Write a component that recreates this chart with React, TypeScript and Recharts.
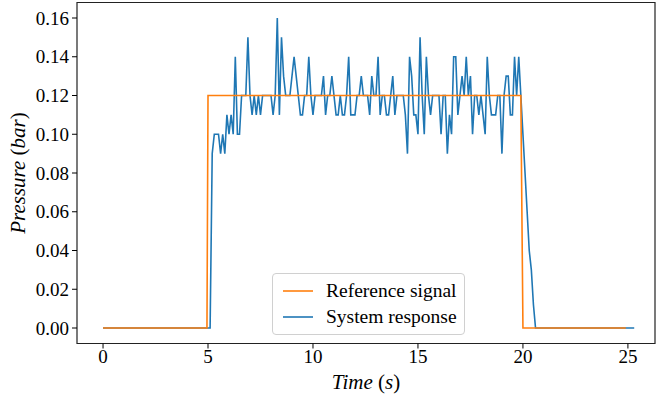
import { LineChart, Line, XAxis, YAxis, Legend, ReferenceArea } from 'recharts';

// reference (setpoint) signal, step up at 5 s and down at 20 s
const refTime = [0, 4.95, 5.0, 19.9, 20.0, 24.9];
const refValue = [0, 0, 0.12, 0.12, 0, 0];

// measured response, sampled every 0.1 s starting at 5.0 s
const sysStart = 5.0;
const sysStep = 0.1;
const sysValues = [
  0, 0, 0.09, 0.1, 0.1, 0.1, 0.09, 0.1, 0.09, 0.11,
  0.1, 0.11, 0.1, 0.14, 0.1, 0.1, 0.12, 0.12, 0.12, 0.15,
  0.12, 0.11, 0.12, 0.11, 0.12, 0.11, 0.12, 0.12, 0.12, 0.12,
  0.12, 0.11, 0.12, 0.16, 0.11, 0.15, 0.13, 0.12, 0.12, 0.12,
  0.13, 0.14, 0.13, 0.12, 0.11, 0.11, 0.12, 0.12, 0.14, 0.12,
  0.11, 0.12, 0.12, 0.12, 0.12, 0.13, 0.11, 0.12, 0.12, 0.13,
  0.12, 0.11, 0.11, 0.12, 0.11, 0.11, 0.12, 0.14, 0.11, 0.11,
  0.11, 0.12, 0.12, 0.13, 0.12, 0.12, 0.12, 0.11, 0.13, 0.12,
  0.12, 0.14, 0.11, 0.12, 0.12, 0.11, 0.11, 0.12, 0.13, 0.11,
  0.12, 0.12, 0.12, 0.12, 0.11, 0.09, 0.14, 0.13, 0.11, 0.11,
  0.1, 0.15, 0.12, 0.1, 0.14, 0.12, 0.11, 0.12, 0.12, 0.12,
  0.12, 0.1, 0.12, 0.12, 0.09, 0.11, 0.1, 0.14, 0.14, 0.11,
  0.12, 0.13, 0.12, 0.14, 0.12, 0.13, 0.1, 0.12, 0.12, 0.11,
  0.12, 0.11, 0.1, 0.14, 0.12, 0.11, 0.11, 0.11, 0.12, 0.12,
  0.09, 0.12, 0.13, 0.13, 0.11, 0.11, 0.14, 0.12, 0.14, 0.12,
  0.1, 0.08, 0.06, 0.04, 0.03, 0.012, 0,
];
const sysEnd = 25.3;

const xTicks = [0, 5, 10, 15, 20, 25];
const yTicks = [0, 0.02, 0.04, 0.06, 0.08, 0.1, 0.12, 0.14, 0.16];

const X_DOMAIN: [number, number] = [-1.24, 26.29];
const Y_DOMAIN: [number, number] = [-0.008, 0.168];

const FONT = "'Liberation Serif', 'Times New Roman', serif";
const BLUE = '#1f77b4';
const ORANGE = '#ff7f0e';

const refData = refTime.map((t, i) => ({ t, v: refValue[i] }));
const sysData = [
  { t: 0, v: 0 },
  ...sysValues.map((v, i) => ({ t: +(sysStart + i * sysStep).toFixed(2), v })),
  { t: sysEnd, v: 0 },
];

function LegendBox() {
  const row = (color: string, text: string) => (
    <div style={{ display: 'flex', alignItems: 'center', height: 26 }}>
      <svg width={30} height={6} style={{ marginRight: 13 }}>
        <line x1={0} y1={3} x2={30} y2={3} stroke={color} strokeWidth={1.6} />
      </svg>
      <span>{text}</span>
    </div>
  );
  return (
    <div
      style={{
        border: '1px solid #d0d0d0',
        borderRadius: 4,
        background: 'rgba(255,255,255,0.8)',
        padding: '4px 6px 4px 10px',
        fontFamily: FONT,
        fontSize: 19.5,
        color: '#000',
        width: 175,
        whiteSpace: 'nowrap',
      }}
    >
      {row(ORANGE, 'Reference signal')}
      {row(BLUE, 'System response')}
    </div>
  );
}

// math-style label: italic letters, upright parentheses
const mathLabel = (word: string, unit: string) => (
  <>
    <tspan fontStyle="italic">{word} </tspan>
    <tspan fontStyle="normal">(</tspan>
    <tspan fontStyle="italic">{unit}</tspan>
    <tspan fontStyle="normal">)</tspan>
  </>
);

const XLabel = (props: any) => {
  const vb = props.viewBox;
  return (
    <text x={vb.x + vb.width / 2} y={389} textAnchor="middle" fontFamily={FONT} fontSize={21} fill="#000">
      {mathLabel('Time', 's')}
    </text>
  );
};

const YLabel = (props: any) => {
  const vb = props.viewBox;
  const cy = vb.y + vb.height / 2;
  return (
    <text x={25} y={cy} transform={`rotate(-90, 25, ${cy})`} textAnchor="middle" fontFamily={FONT} fontSize={21} fill="#000">
      {mathLabel('Pressure', 'bar')}
    </text>
  );
};

export default function App() {
  return (
    <div style={{ position: 'absolute', left: 0, top: 0, width: 657, height: 405, background: '#fff' }}>
      <LineChart width={657} height={405} margin={{ top: 2.5, right: 2, bottom: 0, left: 0 }}>
        <XAxis
          type="number"
          dataKey="t"
          domain={X_DOMAIN}
          ticks={xTicks}
          allowDataOverflow
          height={61.5}
          tickSize={5}
          tickMargin={1}
          axisLine={false}
          tickLine={{ stroke: '#000' }}
          tick={{ fill: '#000', fontSize: 19, fontFamily: FONT }}
          label={<XLabel />}
        />
        <YAxis
          type="number"
          domain={Y_DOMAIN}
          ticks={yTicks}
          allowDataOverflow
          width={77}
          tickSize={5}
          tickMargin={3}
          axisLine={false}
          tickLine={{ stroke: '#000' }}
          tick={{ fill: '#000', fontSize: 19, fontFamily: FONT }}
          tickFormatter={(v: number) => v.toFixed(2)}
          label={<YLabel />}
        />
        <Line data={sysData} dataKey="v" type="linear" stroke={BLUE} strokeWidth={1.6} dot={false} isAnimationActive={false} />
        <Line data={refData} dataKey="v" type="linear" stroke={ORANGE} strokeWidth={1.6} dot={false} isAnimationActive={false} />
        <ReferenceArea
          x1={X_DOMAIN[0]}
          x2={X_DOMAIN[1]}
          y1={Y_DOMAIN[0]}
          y2={Y_DOMAIN[1]}
          fill="none"
          stroke="#222"
          strokeWidth={1.2}
        />
        <Legend
          layout="horizontal"
          verticalAlign="middle"
          align="center"
          wrapperStyle={{ left: 272, top: 273, width: 'auto' }}
          content={() => <LegendBox />}
        />
      </LineChart>
    </div>
  );
}
